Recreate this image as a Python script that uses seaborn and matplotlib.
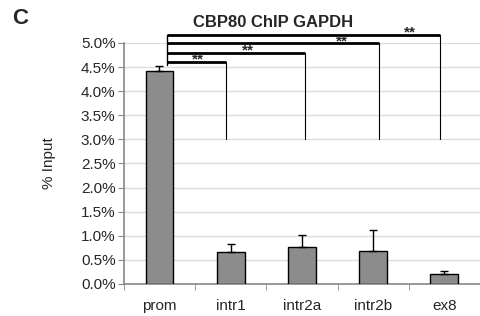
import matplotlib
matplotlib.use('Agg')
import matplotlib.pyplot as plt
import seaborn as sns
from matplotlib.ticker import PercentFormatter

sns.set_style('white')
plt.rcParams['font.family'] = ['Liberation Sans', 'DejaVu Sans']

# Data (% input)
regions = ['prom', 'intr1', 'intr2a', 'intr2b', 'ex8']
means = [4.42, 0.66, 0.77, 0.69, 0.21]
errs = [0.10, 0.17, 0.25, 0.44, 0.06]

# significance brackets: right end x, bracket height, star x
sig_right = [0.93, 2.04, 3.08, 3.94]
sig_level = [4.61, 4.80, 4.99, 5.17]
sig_star_x = [0.54, 1.24, 2.56, 3.51]
sig_left = 0.10
drop_to = 3.0

fig = plt.figure(figsize=(4.8, 3.16), dpi=100)
ax = fig.add_axes([0.258, 0.1013, 0.742, 0.7627])

sns.barplot(x=regions, y=means, color='#8c8c8c', saturation=1, width=0.39,
            edgecolor='black', linewidth=1, ax=ax, zorder=3)
ax.errorbar(range(len(regions)), means, yerr=[[0] * len(errs), errs],
            fmt='none', ecolor='black', elinewidth=1, capsize=3, capthick=1, zorder=4)

ax.set_ylim(0, 5.0)
ax.set_xlim(-0.5, 4.45)
ax.set_yticks([i * 0.5 for i in range(11)])
ax.yaxis.set_major_formatter(PercentFormatter(xmax=100, decimals=1))
ax.yaxis.grid(True, color='#dcdcdc', linewidth=1)
ax.set_axisbelow(True)

for s in ['top', 'right']:
    ax.spines[s].set_visible(False)
for s in ['left', 'bottom']:
    ax.spines[s].set_color('#888888')
    ax.spines[s].set_linewidth(1.2)

ax.set_xticks(range(len(regions)))
ax.set_xticklabels(regions)
ax.tick_params(axis='x', length=0, pad=11, labelsize=11)
ax.tick_params(axis='y', left=True, length=4, color='#888888', labelsize=11, pad=2)
# minor ticks at category boundaries
ax.set_xticks([i + 0.5 for i in range(-1, len(regions))], minor=True)
ax.tick_params(axis='x', which='minor', bottom=True, length=4, color='#888888')

ax.set_ylabel('% Input', fontsize=11, labelpad=18)
ax.set_xlabel('')

# brackets
ax.plot([sig_left, sig_left], [4.55, sig_level[-1]], color='black', lw=1, clip_on=False)
for xr, lv, xs in zip(sig_right, sig_level, sig_star_x):
    ax.plot([sig_left, xr], [lv, lv], color='black', lw=2, clip_on=False, solid_capstyle='butt')
    ax.plot([xr, xr], [drop_to, lv], color='black', lw=0.8, clip_on=False)
    ax.annotate('**', xy=(xs, lv), xytext=(0, -1.5), textcoords='offset points',
                ha='center', va='baseline', fontsize=11, fontweight='bold',
                annotation_clip=False, zorder=5)

fig.text(0.569, 0.929, 'CBP80 ChIP GAPDH', ha='center', va='center', fontsize=12, fontweight='bold')
fig.text(0.042, 0.943, 'C', ha='center', va='center', fontsize=16, fontweight='bold')

fig.savefig('out.png', dpi=100)
